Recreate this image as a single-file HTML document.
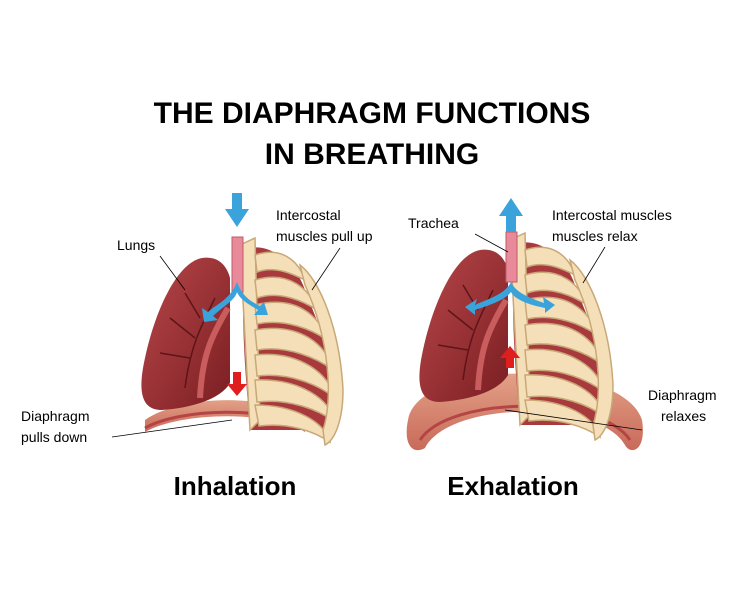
<!DOCTYPE html>
<html><head><style>
body{margin:0;background:#fff;}
svg{display:block;font-family:"Liberation Sans",sans-serif;}
</style></head><body>
<svg width="745" height="600" viewBox="0 0 745 600">
<defs>
<linearGradient id="lg" x1="0" y1="0" x2="1" y2="1"><stop offset="0" stop-color="#b8474a"/><stop offset="1" stop-color="#7a1e22"/></linearGradient>
<linearGradient id="dg" x1="0" y1="0" x2="0" y2="1"><stop offset="0" stop-color="#e3a187"/><stop offset="1" stop-color="#c86a5a"/></linearGradient>
<g id="ribs" fill="#f4dfb8" stroke="#c9a878" stroke-width="1.5">
<path d="M0,0 C20,-10 50,10 60,40 C75,80 95,120 95,160 C92,180 85,185 80,180 L5,180 C0,120 -5,60 0,0Z" fill="#a83a3e" stroke="none"/>
<path d="M-5,-5 L10,-12 L15,170 L5,180 Z"/>
<path d="M10,5 C40,-5 55,15 60,30 C50,25 30,15 12,22Z"/>
<path d="M10,30 C45,20 65,40 72,60 C60,52 35,40 12,48Z"/>
<path d="M10,55 C50,45 75,65 82,90 C68,80 40,68 12,74Z"/>
<path d="M10,80 C55,72 82,95 88,120 C72,108 42,95 12,100Z"/>
<path d="M10,105 C55,100 85,125 90,148 C74,135 44,122 12,126Z"/>
<path d="M10,130 C55,128 86,150 90,172 C74,160 44,148 12,152Z"/>
<path d="M10,155 C50,155 80,172 85,192 C70,182 44,172 14,176Z"/>
<path d="M55,15 C75,30 95,80 98,140 C98,170 90,190 80,195 L78,180 C88,150 85,90 60,35Z"/>
</g>
<g id="lung"><path d="M62,0 C35,5 12,60 3,110 C-2,140 5,152 22,152 C50,150 80,142 90,125 L90,20 C86,5 76,-2 62,0Z" fill="url(#lg)"/>
<path d="M75,40 C60,70 50,90 45,130 M55,80 L30,60 M50,100 L20,95 M60,60 L45,35" stroke="#5e1418" stroke-width="1.5" fill="none"/>
<path d="M88,50 C70,80 62,100 60,140" stroke="#c95c5c" stroke-width="6" fill="none"/></g>
</defs>
<text x="372" y="123" font-size="30" font-weight="bold" text-anchor="middle" fill="#000">THE DIAPHRAGM FUNCTIONS</text>
<text x="372" y="164" font-size="30" font-weight="bold" text-anchor="middle" fill="#000">IN BREATHING</text>

<!-- Inhalation -->
<path d="M145,420 C180,395 270,392 305,420 L305,432 C270,410 180,412 145,432Z" fill="url(#dg)"/>
<path d="M145,428 C180,408 270,406 305,428" stroke="#b54545" stroke-width="3" fill="none"/>
<use href="#lung" x="140" y="258"/>
<use href="#ribs" x="245" y="250"/>
<rect x="232" y="237" width="11" height="55" fill="#e88a9a" stroke="#c05a6a"/>
<path d="M232,193 h10 v16 h7 l-12,18 l-12,-18 h7z" fill="#3ba3dc"/>
<path d="M237,282 C230,300 215,305 208,312 l-6,-4 l2,14 l14,-2 l-5,-4 C225,305 235,300 237,292 C240,300 250,305 258,310 l-4,5 l14,0 l-4,-13 l-4,4 C248,300 242,295 237,282Z" fill="#3ba3dc"/>
<path d="M233,372 h8 v12 h6 l-10,12 l-10,-12 h6z" fill="#e01e1e"/>
<text x="117" y="250" font-size="14">Lungs</text>
<line x1="160" y1="256" x2="185" y2="290" stroke="#000" stroke-width="0.8"/>
<text x="276" y="220" font-size="14">Intercostal</text>
<text x="276" y="241" font-size="14">muscles pull up</text>
<line x1="340" y1="248" x2="312" y2="290" stroke="#000" stroke-width="0.8"/>
<text x="21" y="421" font-size="14">Diaphragm</text>
<text x="21" y="442" font-size="14">pulls down</text>
<line x1="112" y1="437" x2="232" y2="420" stroke="#000" stroke-width="0.8"/>
<text x="235" y="495" font-size="26" font-weight="bold" text-anchor="middle">Inhalation</text>

<!-- Exhalation -->
<path d="M408,420 C418,358 622,358 642,420 C647,452 630,455 625,445 C600,400 450,400 425,448 C413,455 403,445 408,420Z" fill="url(#dg)"/>
<path d="M420,440 C450,395 600,395 630,440" stroke="#b54545" stroke-width="3" fill="none"/>
<use href="#lung" x="418" y="250"/>
<use href="#ribs" x="515" y="245"/>
<rect x="506" y="232" width="11" height="50" fill="#e88a9a" stroke="#c05a6a"/>
<path d="M506,232 v-16 h-7 l12,-18 l12,18 h-7 v16z" fill="#3ba3dc"/>
<path d="M511,282 C505,295 485,300 475,305 l2,-6 l-12,8 l10,8 l0,-5 C490,305 505,300 511,292 C515,300 530,305 545,308 l0,5 l10,-8 l-12,-8 l1,6 C530,298 516,293 511,282Z" fill="#3ba3dc"/>
<path d="M506,368 v-10 h-6 l10,-12 l10,12 h-6 v10z" fill="#e01e1e"/>
<text x="408" y="228" font-size="14">Trachea</text>
<line x1="475" y1="234" x2="508" y2="252" stroke="#000" stroke-width="0.8"/>
<text x="552" y="220" font-size="14">Intercostal muscles</text>
<text x="552" y="241" font-size="14">muscles relax</text>
<line x1="605" y1="247" x2="583" y2="283" stroke="#000" stroke-width="0.8"/>
<text x="648" y="400" font-size="14">Diaphragm</text>
<text x="661" y="421" font-size="14">relaxes</text>
<line x1="505" y1="410" x2="642" y2="430" stroke="#000" stroke-width="0.8"/>
<text x="513" y="495" font-size="26" font-weight="bold" text-anchor="middle">Exhalation</text>
</svg>
</body></html>
